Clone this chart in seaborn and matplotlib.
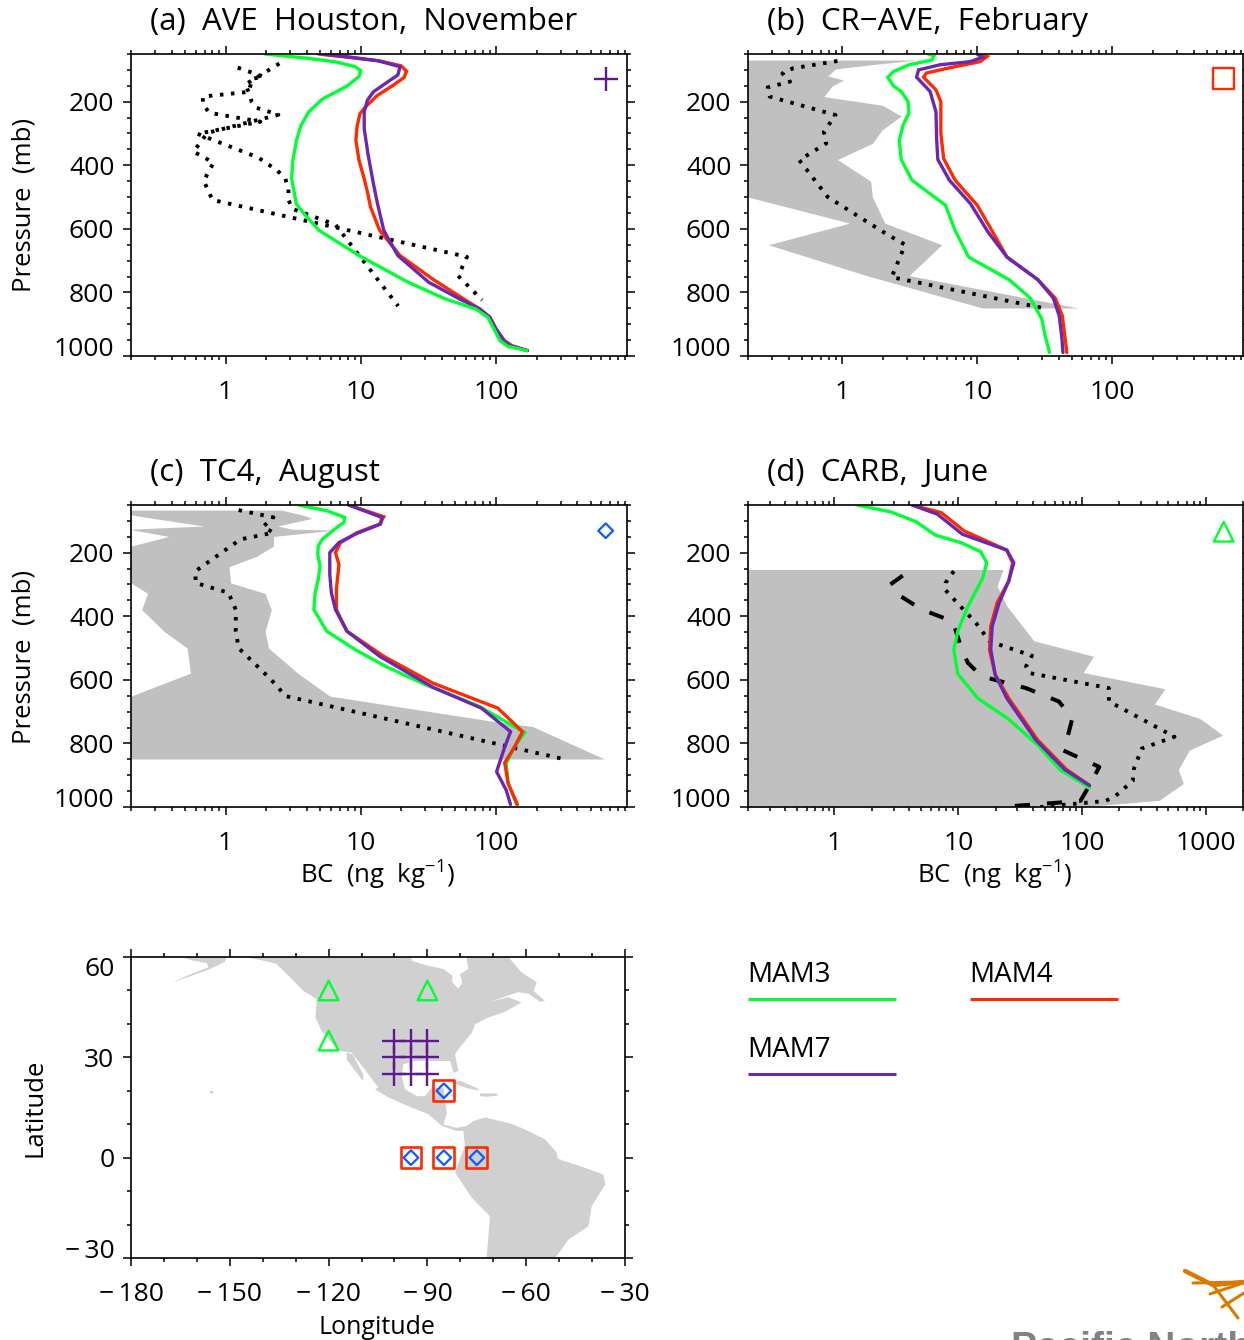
import numpy as np
import seaborn as sns
import matplotlib.pyplot as plt
from matplotlib.lines import Line2D
from matplotlib.ticker import LogLocator, MultipleLocator, NullFormatter, FixedLocator, FixedFormatter

W, H = 1244, 1340
sns.set_theme(style='ticks')
plt.rcParams['font.family'] = ['Open Sans', 'DejaVu Sans']
plt.rcParams['mathtext.fontset'] = 'custom'
plt.rcParams['mathtext.rm'] = 'Open Sans'
plt.rcParams['mathtext.default'] = 'regular'
plt.rcParams['xtick.color'] = 'black'
plt.rcParams['ytick.color'] = 'black'

GREEN = '#00ff33'
RED = '#ff2a00'
PURPLE = '#6a28b0'
DARK_PURPLE = '#5c1a90'
BLUE = '#0a5cff'
BAND = '#c0c0c0'
LAND = '#d0d0d0'
DOTTED = (0, (0.9, 1.95))
DASHED = (0, (3.75, 4.25))

# ---------------- panel a: AVE Houston, November
a_mam3_p = [50, 63, 74, 90, 102, 121, 151, 192, 232, 274, 321, 384, 442, 479, 521, 552, 605, 684, 768, 820, 852, 878, 915, 952, 970, 983]
a_mam3 = [1.96, 3.94, 6.4, 9.07, 10, 9.7, 7.9, 5.2, 4.13, 3.62, 3.35, 3.15, 3.08, 3.2, 3.33, 3.8, 4.92, 9.7, 22.4, 41.9, 70.6, 87, 96.6, 107, 123, 169]
a_mam4_p = [50, 60, 72, 87, 104, 124, 151, 180, 217, 238, 277, 321, 384, 442, 484, 531, 605, 684, 758, 815, 852, 878, 915, 952, 968, 983]
a_mam4 = [4.85, 7.9, 13.8, 19.8, 21.8, 20.9, 17, 13.3, 10.8, 9.86, 9.4, 9.2, 9.7, 10.6, 11.2, 11.8, 13.8, 19.5, 34, 55, 75.7, 90, 100, 115, 132, 171]
a_mam7_p = [50, 60, 71, 90, 116, 142, 169, 195, 232, 285, 364, 458, 521, 605, 684, 768, 820, 852, 878, 915, 952, 968, 983]
a_mam7 = [5.2, 8.46, 13.3, 19.5, 18.8, 15.3, 12.4, 11.2, 10.6, 10.6, 11.3, 12.4, 13.3, 14.8, 18.8, 31.8, 53.5, 75.7, 90, 100, 115, 128, 171]
a_obs1_p = [80, 146, 169, 200, 219, 241, 298, 357, 392, 449, 509, 688, 748, 824]
a_obs1 = [2.5, 1.4, 1.48, 1.56, 1.69, 2.46, 0.736, 0.58, 0.815, 0.69, 0.80, 61, 52.5, 79]
a_obs2_p = [93, 121, 128, 169, 184, 209, 235, 263, 301, 376, 417, 443, 474, 509, 537, 587, 843]
a_obs2 = [1.23, 1.91, 1.58, 1.48, 0.68, 0.68, 0.76, 1.81, 0.62, 1.75, 2.42, 2.77, 2.92, 2.92, 3.12, 6.5, 18.9]

# ---------------- panel b: CR-AVE, February
b_mam3_p = [50, 56, 69, 84, 105, 123, 151, 168, 200, 235, 274, 321, 382, 447, 526, 605, 689, 760, 818, 883, 941, 989]
b_mam3 = [4.33, 4.77, 4.62, 3.12, 2.4, 2.17, 2.4, 2.73, 3.07, 3.12, 2.82, 2.64, 2.73, 3.28, 5.81, 6.85, 8.63, 17.2, 24.7, 30, 32, 34.3]
b_mam4_p = [50, 58, 74, 95, 110, 123, 163, 200, 300, 379, 447, 526, 605, 689, 760, 818, 873, 941, 989]
b_mam4 = [10, 11.8, 10.5, 6, 4.19, 4, 4.94, 5.37, 5.37, 5.63, 6.85, 10, 12.8, 16.6, 28.1, 37.8, 42.6, 44.6, 46]
b_mam7_p = [50, 60, 74, 84, 100, 123, 168, 232, 321, 382, 447, 521, 610, 689, 760, 818, 873, 941, 989]
b_mam7 = [10, 10.9, 8.9, 5.27, 3.67, 3.55, 4.47, 4.94, 5, 5.1, 6.21, 8.9, 12, 16.6, 28.1, 36.6, 40.4, 42.3, 43.1]
b_obs_p = [72, 95, 111, 137, 155, 184, 242, 295, 331, 384, 500, 615, 650, 752, 852]
b_obs = [0.92, 0.43, 0.36, 0.41, 0.28, 0.29, 0.89, 0.73, 0.76, 0.48, 0.78, 2.1, 2.92, 2.32, 33]
b_band_p = [69, 84, 97, 119, 132, 151, 184, 211, 245, 289, 331, 382, 450, 500, 582, 650, 747, 849]
b_band_lo = [0.1, 0.1, 0.1, 0.1, 0.1, 0.1, 0.1, 0.1, 0.1, 0.1, 0.1, 0.1, 0.1, 0.2, 1.13, 0.283, 1.51, 10.9]
b_band_hi = [3.56, 1.62, 0.89, 0.78, 1.02, 0.84, 0.73, 1.97, 2.73, 1.97, 1.67, 0.92, 1.62, 1.67, 2.06, 5.45, 3.12, 56]

# ---------------- panel c: TC4, August
c_mam3_p = [50.5, 68, 89, 105, 126, 158, 179, 205, 242, 284, 326, 379, 447, 505, 558, 614, 684, 766, 811, 863, 926, 992]
c_mam3 = [3.5, 5.6, 7.6, 7.5, 6.4, 5.2, 4.85, 4.8, 5, 4.85, 4.6, 4.5, 5.6, 9.1, 15.3, 29.6, 75.7, 163, 137, 119, 123, 142]
c_mam4_p = [50.5, 87, 110, 137, 168, 200, 237, 316, 379, 447, 526, 610, 689, 763, 811, 861, 926, 992]
c_mam4 = [8.2, 14.8, 13.8, 9.4, 7.1, 6.5, 6.9, 6.6, 6.6, 7.9, 14.8, 34, 103, 157, 137, 116, 123, 144]
c_mam7_p = [50.5, 89, 110, 139, 168, 200, 268, 326, 379, 447, 526, 623, 689, 763, 816, 889, 947, 992]
c_mam7 = [8.2, 14.3, 14, 9.4, 6.9, 5.9, 5.9, 6.06, 6.5, 7.9, 13.8, 34, 78, 128, 115, 101, 119, 128]
c_obs_p = [66, 89, 118, 137, 158, 258, 295, 326, 379, 447, 500, 600, 651, 849]
c_obs = [1.25, 2.26, 1.9, 2.26, 1.29, 0.6, 0.6, 1.05, 1.19, 1.19, 1.25, 2.18, 2.78, 315]
c_band_p = [66, 81, 92, 116, 126, 129, 149, 179, 211, 244, 295, 328, 379, 447, 500, 579, 651, 732, 747, 849]
c_band_lo = [0.1, 0.2, 0.29, 0.69, 0.2, 0.21, 0.38, 0.2, 0.1, 0.1, 0.2, 0.265, 0.24, 0.35, 0.52, 0.55, 0.2, 0.1, 0.1, 0.1]
c_band_hi = [2.59, 3.67, 4.37, 2.42, 3.09, 6.4, 2.26, 2.26, 1.71, 1.06, 1.09, 1.96, 2.18, 1.96, 2.08, 3.42, 5.89, 100, 187, 632]

# ---------------- panel d: CARB, June
d_mam3_p = [50.5, 72, 103, 145, 168, 197, 232, 279, 368, 442, 505, 581, 658, 724, 805, 884, 939]
d_mam3 = [1.54, 2.87, 4.58, 6.55, 10.4, 15.2, 17, 15.8, 12, 10, 9.2, 9.9, 14.4, 25.6, 43.8, 67, 115]
d_mam4_p = [50.5, 74, 132, 192, 232, 289, 358, 432, 505, 584, 658, 789, 882, 932]
d_mam4 = [4.26, 7.29, 11.2, 24.7, 27.5, 25.6, 20.6, 18.3, 17.9, 19.9, 25.6, 43.8, 75, 115]
d_mam7_p = [50.5, 79, 142, 192, 232, 289, 358, 432, 505, 584, 658, 789, 882, 932]
d_mam7 = [4.26, 6.79, 10.8, 24.7, 28.1, 25.6, 21.4, 18.8, 18.3, 19.9, 24.7, 42.3, 72.4, 115]
d_obs_p = [258, 295, 316, 421, 479, 524, 558, 579, 626, 668, 779, 816, 879, 918, 943, 965, 981, 1000]
d_obs = [9.2, 7.9, 7.8, 13.9, 17.9, 39.4, 35.3, 37.9, 165, 165, 559, 304, 263, 257, 217, 187, 155, 46]
d_dash_p = [272, 300, 326, 379, 416, 453, 511, 547, 589, 626, 668, 721, 768, 821, 874, 942, 981, 1000]
d_dash = [3.56, 2.83, 3.08, 5.1, 9, 9.7, 10.8, 12, 15.5, 35.3, 65, 83.6, 77.8, 69.8, 138, 111, 97, 22]
d_band_p = [253, 305, 368, 477, 526, 577, 628, 676, 721, 774, 821, 882, 926, 979, 1000]
d_band_lo = [0.1] * 15
d_band_hi = [23, 20.6, 24.7, 40.8, 124, 102, 468, 385, 891, 1371, 735, 601, 659, 420, 96]

pressure_ticks = [200, 400, 600, 800, 1000]
bc_ticks = [1, 10, 100]
bc_ticks_d = [1, 10, 100, 1000]
lon_ticks = [-180, -150, -120, -90, -60, -30]
lat_ticks = [-30, 0, 30, 60]

# map outlines
na_sa_lon = [-145.4, -94.8, -94.8, -90.7, -85.1, -82.4, -82.4, -80.6, -79.4, -80.1, -77.6, -78.1, -65.4, -61.4, -56.8, -57.8, -54.3, -55.8, -59.3, -62.4, -71, -65.4, -61.4, -66.9, -71.5, -75.5, -76.5, -80.6, -81.6, -80.6, -82.1, -83.1, -87.7, -93.7, -97.3, -97.8, -96.8, -93.2, -90.7, -88.7, -85.1, -84.1, -85.1, -81.1, -78.1, -76, -72.5, -65.4, -61.4, -54.3, -50.7, -50.5, -48.5, -45.2, -36.6, -36, -40.1, -41.1, -47.2, -51.2, -72, -71, -76.5, -81.6, -80.6, -78.6, -79.1, -81.1, -85.6, -89.7, -95.8, -101.8, -105.9, -104.9, -109.5, -113, -116.6, -119.6, -122.1, -124, -123.6, -127.7, -131.7, -135.8, -139.3]
na_sa_lat = [60, 60, 58.9, 57.6, 56.4, 54.4, 52.4, 50.6, 52.4, 54.9, 56.4, 60, 60, 55.4, 52.4, 49.9, 46.9, 46.6, 49, 49.5, 46.6, 48, 46.4, 43.4, 41.9, 39.9, 37.4, 32.4, 30.9, 25.9, 25.4, 28.9, 28.9, 28.9, 27.9, 24.4, 20.4, 18.4, 18.4, 20.9, 20.9, 13.4, 9.9, 8.9, 9.5, 11, 12, 10.4, 8.9, 5.5, 1.5, -0.2, -1, -2, -5, -8, -14.5, -20.5, -24.5, -30, -30, -17.5, -12, -4.5, -1.5, 3.5, 8, 8, 9.5, 13, 15.4, 18, 20.4, 21, 27, 31.4, 31.9, 34.9, 37.9, 41.9, 47.4, 49.9, 53.9, 57.9, 58.8]
alaska_lon = [-163.6, -151, -151.5, -153.5, -156.5, -162.1, -167.4, -163, -156.5, -157, -161.1, -163.6]
alaska_lat = [60, 60, 58.6, 57.6, 56.2, 54.2, 52.4, 54.4, 56.9, 58.2, 58.9, 59.6]
baja_lon = [-114.5, -112.7, -109.5, -109.5, -113, -114.5]
baja_lat = [31.4, 30.9, 24.9, 22.9, 27.4, 29.4]
cuba_lon = [-84, -80, -75, -74.2, -78, -82]
cuba_lat = [22, 23, 20.8, 20, 20.8, 22.2]
hispaniola_lon = [-74, -69, -68.5, -72, -74]
hispaniola_lat = [19.2, 19.2, 18.6, 18.2, 18.4]
hawaii_lon = [-155.8, -154.8, -155.5, -156]
hawaii_lat = [20.2, 19.6, 19, 19.5]

# campaign locations
plus_lon = [-100, -95, -90, -100, -95, -90, -100, -95, -90]
plus_lat = [25, 25, 25, 30, 30, 30, 35, 35, 35]
square_lon = [-85, -95, -85, -75]
square_lat = [20, 0, 0, 0]
triangle_lon = [-120, -120, -90]
triangle_lat = [50, 35, 50]

# key markers in the panel corners: (BC, pressure)
key_a = (647, 128)
key_b = (670, 128)
key_c = (647, 131)
key_d = (1396, 134)

legend_names = ['MAM3', 'MAM4', 'MAM7']


def px_axes(left, top, right, bottom):
    return fig.add_axes([left / W, 1 - bottom / H, (right - left) / W, (bottom - top) / H])


def px_text(x, y, s, **kw):
    kw.setdefault('va', 'center')
    kw.setdefault('color', 'black')
    return fig.text(x / W, 1 - y / H, s, **kw)


def draw_line(ax, x, y, color, ls='-', lw=2.4):
    sns.lineplot(x=x, y=y, ax=ax, color=color, linestyle=ls, linewidth=lw, sort=False,
                 estimator=None, legend=False, solid_joinstyle='miter', dash_capstyle='butt', zorder=3)


def key_marker(ax, pos, kind):
    if kind == '+':
        sns.scatterplot(x=[pos[0]], y=[pos[1]], ax=ax, marker='+', color=DARK_PURPLE, s=310, linewidth=1.7, zorder=6)
    elif kind == 's':
        sns.scatterplot(x=[pos[0]], y=[pos[1]], ax=ax, marker='s', facecolor='none', edgecolor=RED, s=225, linewidth=1.7, zorder=6)
    elif kind == 'D':
        sns.scatterplot(x=[pos[0]], y=[pos[1]], ax=ax, marker='D', facecolor='none', edgecolor=BLUE, s=56, linewidth=1.6, zorder=6)
    else:
        sns.scatterplot(x=[pos[0]], y=[pos[1]], ax=ax, marker='^', facecolor='none', edgecolor=GREEN, s=200, linewidth=1.7, zorder=6)


def style_profile(ax, xmax, ticks):
    ax.set_xscale('log')
    ax.set_xlim(0.2, xmax)
    ax.set_ylim(1000, 50)
    ax.xaxis.set_major_locator(FixedLocator(ticks))
    ax.xaxis.set_major_formatter(FixedFormatter([str(t) for t in ticks]))
    ax.xaxis.set_minor_locator(LogLocator(base=10, subs=range(2, 10), numticks=20))
    ax.xaxis.set_minor_formatter(NullFormatter())
    ax.yaxis.set_major_locator(FixedLocator(pressure_ticks))
    ax.yaxis.set_major_formatter(FixedFormatter([str(t) for t in pressure_ticks]))
    ax.yaxis.set_minor_locator(MultipleLocator(50))
    finish_axes(ax)
    ax.get_yticklabels()[-1].set_verticalalignment('baseline')


def finish_axes(ax):
    ax.set_xlabel('')
    ax.set_ylabel('')
    ax.tick_params(which='major', direction='out', length=6, width=1.1, top=True, right=True, labelsize=19)
    ax.tick_params(which='minor', direction='out', length=3, width=1.1, top=True, right=True)
    ax.tick_params(axis='x', which='major', pad=11)
    ax.tick_params(axis='y', which='major', pad=6)
    for s in ax.spines.values():
        s.set_visible(True)
        s.set_linewidth(1.2)
        s.set_color('black')
        s.set_zorder(10)


fig = plt.figure(figsize=(W / 100, H / 100), dpi=100, facecolor='white')

# panel a
ax_a = px_axes(131, 54, 627, 356)
draw_line(ax_a, a_obs1, a_obs1_p, 'black', DOTTED, 2.8)
draw_line(ax_a, a_obs2, a_obs2_p, 'black', DOTTED, 2.8)
draw_line(ax_a, a_mam4, a_mam4_p, RED)
draw_line(ax_a, a_mam7, a_mam7_p, PURPLE)
draw_line(ax_a, a_mam3, a_mam3_p, GREEN)
key_marker(ax_a, key_a, '+')
style_profile(ax_a, 930, bc_ticks)

# panel b
ax_b = px_axes(748, 54, 1243, 356)
ax_b.fill_betweenx(b_band_p, b_band_lo, b_band_hi, color=BAND, lw=0, zorder=1)
draw_line(ax_b, b_obs, b_obs_p, 'black', DOTTED, 2.8)
draw_line(ax_b, b_mam3, b_mam3_p, GREEN)
draw_line(ax_b, b_mam4, b_mam4_p, RED)
draw_line(ax_b, b_mam7, b_mam7_p, PURPLE)
key_marker(ax_b, key_b, 's')
style_profile(ax_b, 930, bc_ticks)

# panel c
ax_c = px_axes(131, 505, 627, 807)
ax_c.fill_betweenx(c_band_p, c_band_lo, c_band_hi, color=BAND, lw=0, zorder=1)
draw_line(ax_c, c_obs, c_obs_p, 'black', DOTTED, 2.8)
draw_line(ax_c, c_mam3, c_mam3_p, GREEN)
draw_line(ax_c, c_mam4, c_mam4_p, RED)
draw_line(ax_c, c_mam7, c_mam7_p, PURPLE)
key_marker(ax_c, key_c, 'D')
style_profile(ax_c, 930, bc_ticks)

# panel d
ax_d = px_axes(748, 505, 1243, 807)
ax_d.fill_betweenx(d_band_p, d_band_lo, d_band_hi, color=BAND, lw=0, zorder=1)
draw_line(ax_d, d_obs, d_obs_p, 'black', DOTTED, 2.8)
draw_line(ax_d, d_dash, d_dash_p, 'black', DASHED, 2.9)
draw_line(ax_d, d_mam3, d_mam3_p, GREEN)
draw_line(ax_d, d_mam4, d_mam4_p, RED)
draw_line(ax_d, d_mam7, d_mam7_p, PURPLE)
key_marker(ax_d, key_d, '^')
style_profile(ax_d, 2000, bc_ticks_d)

# map
ax_m = px_axes(131, 957, 625, 1258)
for lon, lat in [(na_sa_lon, na_sa_lat), (alaska_lon, alaska_lat), (baja_lon, baja_lat),
                 (cuba_lon, cuba_lat), (hispaniola_lon, hispaniola_lat), (hawaii_lon, hawaii_lat)]:
    ax_m.fill(lon, lat, color=LAND, lw=0, zorder=1)
sns.scatterplot(x=plus_lon, y=plus_lat, ax=ax_m, marker='+', color=DARK_PURPLE, s=310, linewidth=1.7, zorder=4)
sns.scatterplot(x=square_lon, y=square_lat, ax=ax_m, marker='s', facecolor='none', edgecolor=RED, s=225, linewidth=1.9, zorder=4)
sns.scatterplot(x=square_lon, y=square_lat, ax=ax_m, marker='D', facecolor='none', edgecolor=BLUE, s=56, linewidth=1.6, zorder=5)
sns.scatterplot(x=triangle_lon, y=triangle_lat, ax=ax_m, marker='^', facecolor='none', edgecolor=GREEN, s=200, linewidth=1.7, zorder=4)
ax_m.set_xlim(-180, -30)
ax_m.set_ylim(-30, 60)
ax_m.xaxis.set_major_locator(FixedLocator(lon_ticks))
ax_m.xaxis.set_major_formatter(FixedFormatter(['\u2212\u2009' + str(abs(t)) for t in lon_ticks]))
ax_m.xaxis.set_minor_locator(MultipleLocator(10))
ax_m.yaxis.set_major_locator(FixedLocator(lat_ticks))
ax_m.yaxis.set_major_formatter(FixedFormatter([str(t).replace('-', '\u2212\u2009') for t in lat_ticks]))
ax_m.yaxis.set_minor_locator(MultipleLocator(10))
finish_axes(ax_m)
ax_m.get_yticklabels()[0].set_verticalalignment('baseline')
ax_m.get_yticklabels()[-1].set_verticalalignment('top')

# titles and axis names
title_size = 22.5
px_text(150, 22, '(a)  AVE  Houston,  November', fontsize=title_size)
px_text(767, 22, '(b)  CR\u2212AVE,  February', fontsize=title_size)
px_text(150, 473, '(c)  TC4,  August', fontsize=title_size)
px_text(767, 473, '(d)  CARB,  June', fontsize=title_size)
px_text(24, 205, 'Pressure  (mb)', fontsize=18.5, rotation=90, ha='center')
px_text(24, 657, 'Pressure  (mb)', fontsize=18.5, rotation=90, ha='center')
px_text(377, 875, 'BC  (ng  kg$^{-1}$)', fontsize=18.5, ha='center')
px_text(994, 875, 'BC  (ng  kg$^{-1}$)', fontsize=18.5, ha='center')
px_text(377, 1327, 'Longitude', fontsize=18, ha='center')
px_text(35, 1108, 'Latitude', fontsize=18.5, rotation=90, ha='center')

# line key
for name, col, xl, yt, yl in [(legend_names[0], GREEN, 748, 975, 998.5),
                              (legend_names[1], RED, 970, 975, 998.5),
                              (legend_names[2], PURPLE, 748, 1050, 1074)]:
    px_text(xl - 1, yt, name, fontsize=20)
    fig.add_artist(Line2D([xl / W, (xl + 148) / W], [1 - yl / H, 1 - yl / H], color=col, lw=2.2,
                          solid_capstyle='butt'))

# cut-off logo in the corner
logo = [[(1185, 1271), (1213, 1285), (1244, 1282)],
        [(1193, 1283), (1244, 1282)],
        [(1210, 1294), (1243, 1283)],
        [(1222, 1307), (1244, 1293)],
        [(1213, 1285), (1238, 1318)]]
for i, stroke in enumerate(logo):
    xs = [p[0] / W for p in stroke]
    ys = [1 - p[1] / H for p in stroke]
    fig.add_artist(Line2D(xs, ys, color='#d87a00', lw=3.2 if i == 0 else 2.2, solid_capstyle='round'))
px_text(1011, 1349, 'Pacific Northwest', fontsize=28, fontweight='bold', color='#808285',
        family='Liberation Sans', clip_on=True)

fig.savefig('out.png', dpi=100)
